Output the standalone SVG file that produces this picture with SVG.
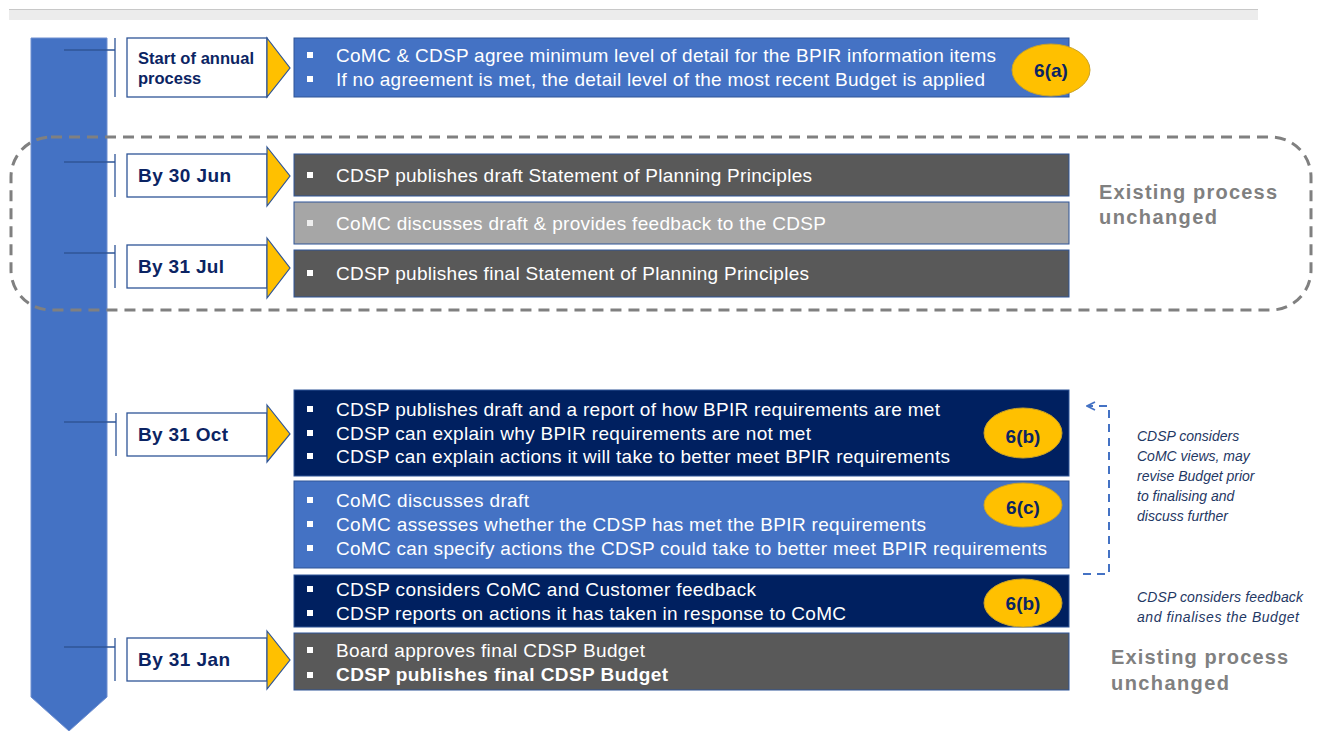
<svg xmlns="http://www.w3.org/2000/svg" width="1322" height="731" viewBox="0 0 1322 731">
<defs>
<style>
.bg{fill:#ffffff}
.tl{fill:#4472C4;stroke:#6f8fd0;stroke-width:1}
.tick{fill:none;stroke:#2F5597;stroke-width:1.3}
.date{fill:#ffffff;stroke:#2F5597;stroke-width:1.3}
.tri{fill:#FFC000;stroke:#2F5597;stroke-width:1.2}
.dl{font-family:"Liberation Sans",Arial,sans-serif;font-weight:bold;fill:#0B2463;font-size:19px}
.dls{font-family:"Liberation Sans",Arial,sans-serif;font-weight:bold;fill:#0B2463;font-size:16.5px}
.box{stroke:#2F5597;stroke-width:1}
.blue{fill:#4472C4}
.navy{fill:#002060}
.dgray{fill:#595959}
.lgray{fill:#A6A6A6}
.t{font-family:"Liberation Sans",Arial,sans-serif;font-size:19px;fill:#ffffff}
.tb{font-weight:bold}
.bul{fill:#ffffff}
.ell{fill:#FFC000;stroke:#C9A227;stroke-width:1}
.et{font-family:"Liberation Sans",Arial,sans-serif;font-weight:bold;font-size:19px;fill:#0B2463;text-anchor:middle}
.ex{font-family:"Liberation Sans",Arial,sans-serif;font-weight:bold;font-size:20px;fill:#808080}
.it{font-family:"Liberation Sans",Arial,sans-serif;font-style:italic;font-size:14px;fill:#1F3864}
.dash{fill:none;stroke:#808080;stroke-width:3;stroke-dasharray:11 7}
.conn{fill:none;stroke:#4472C4;stroke-width:2;stroke-dasharray:8 6}
</style>
<marker id="ah" viewBox="0 0 10 10" refX="9" refY="5" markerWidth="10" markerHeight="10" markerUnits="userSpaceOnUse" orient="auto">
<path d="M1,1 L9,5 L1,9" fill="none" stroke="#4472C4" stroke-width="1.8"/>
</marker>
</defs>
<rect class="bg" x="0" y="0" width="1322" height="731"/>
<rect x="9" y="9" width="1249" height="11" fill="#ECECEC"/>
<line x1="9" y1="9.5" x2="1258" y2="9.5" stroke="#C8C8C8" stroke-width="1"/>

<g id="timeline">
<polygon class="tl" points="31,38 107,38 107,697 69,731 31,697"/>
</g>

<g id="existing-frame">
<rect class="dash" x="11" y="137" width="1300" height="173" rx="40" ry="40"/>
</g>

<g id="connectors">
<path class="tick" d="M64,50 H115 M115,38 V97"/>
<path class="tick" d="M64,162 H115 M115,154 V197"/>
<path class="tick" d="M64,253 H115 M115,245 V288"/>
<path class="tick" d="M64,422 H116 M116,413 V456"/>
<path class="tick" d="M64,647 H115 M115,638 V681"/>
<path class="conn" d="M1083,574 H1109 V406 H1087" marker-end="url(#ah)"/>
</g>

<g id="date-start">
<rect class="date" x="127" y="38" width="140" height="59"/>
<polygon class="tri" points="267,38 290,68 267,97"/>
<text class="dls" x="138" y="64" textLength="116">Start of annual</text>
<text class="dls" x="138" y="84">process</text>
</g>
<g id="date-30jun">
<rect class="date" x="127" y="154" width="140" height="43"/>
<polygon class="tri" points="267,147 290,176 267,206"/>
<text class="dl" x="138" y="182" textLength="93">By 30 Jun</text>
</g>
<g id="date-31jul">
<rect class="date" x="127" y="245" width="140" height="43"/>
<polygon class="tri" points="267,238 290,268 267,298"/>
<text class="dl" x="138" y="273" textLength="86">By 31 Jul</text>
</g>
<g id="date-31oct">
<rect class="date" x="127" y="413" width="140" height="43"/>
<polygon class="tri" points="267,405 290,434 267,462"/>
<text class="dl" x="138" y="441" textLength="90">By 31 Oct</text>
</g>
<g id="date-31jan">
<rect class="date" x="127" y="638" width="140" height="43"/>
<polygon class="tri" points="267,631 290,660 267,689"/>
<text class="dl" x="138" y="666" textLength="92">By 31 Jan</text>
</g>

<g id="box-6a">
<rect class="box blue" x="294" y="38" width="775" height="59"/>
<rect class="bul" x="307" y="52" width="6" height="6"/>
<rect class="bul" x="307" y="76" width="6" height="6"/>
<text class="t" x="336" y="62" textLength="660">CoMC &amp; CDSP agree minimum level of detail for the BPIR information items</text>
<text class="t" x="336" y="86" textLength="649">If no agreement is met, the detail level of the most recent Budget is applied</text>
<ellipse class="ell" cx="1051" cy="70" rx="39" ry="26"/>
<text class="et" x="1051" y="77">6(a)</text>
</g>

<g id="box-draft-spp">
<rect class="box dgray" x="294" y="154" width="775" height="42"/>
<rect class="bul" x="307" y="172" width="6" height="6"/>
<text class="t" x="336" y="182" textLength="476">CDSP publishes draft Statement of Planning Principles</text>
</g>
<g id="box-comc-feedback">
<rect class="box lgray" x="294" y="202" width="775" height="42"/>
<rect x="307" y="220" width="6" height="6" fill="#EDEDED"/>
<text class="t" x="336" y="230" textLength="490" fill="#F2F2F2">CoMC discusses draft &amp; provides feedback to the CDSP</text>
</g>
<g id="box-final-spp">
<rect class="box dgray" x="294" y="250" width="775" height="47"/>
<rect class="bul" x="307" y="270" width="6" height="6"/>
<text class="t" x="336" y="280" textLength="473">CDSP publishes final Statement of Planning Principles</text>
</g>
<g id="label-existing-1">
<text class="ex" x="1099" y="199" textLength="178">Existing process</text>
<text class="ex" x="1099" y="224" textLength="118">unchanged</text>
</g>

<g id="box-6b-draft">
<rect class="box navy" x="294" y="390" width="775" height="86"/>
<rect class="bul" x="307" y="406" width="6" height="6"/>
<rect class="bul" x="307" y="430" width="6" height="6"/>
<rect class="bul" x="307" y="453" width="6" height="6"/>
<text class="t" x="336" y="416" textLength="604">CDSP publishes draft and a report of how BPIR requirements are met</text>
<text class="t" x="336" y="440" textLength="475">CDSP can explain why BPIR requirements are not met</text>
<text class="t" x="336" y="463" textLength="614">CDSP can explain actions it will take to better meet BPIR requirements</text>
<ellipse class="ell" cx="1023" cy="433" rx="39" ry="25"/>
<text class="et" x="1023" y="443">6(b)</text>
</g>

<g id="box-6c">
<rect class="box blue" x="294" y="481" width="775" height="87"/>
<rect class="bul" x="307" y="497" width="6" height="6"/>
<rect class="bul" x="307" y="521" width="6" height="6"/>
<rect class="bul" x="307" y="545" width="6" height="6"/>
<text class="t" x="336" y="507" textLength="193">CoMC discusses draft</text>
<text class="t" x="336" y="531" textLength="590">CoMC assesses whether the CDSP has met the BPIR requirements</text>
<text class="t" x="336" y="555" textLength="711">CoMC can specify actions the CDSP could take to better meet BPIR requirements</text>
<ellipse class="ell" cx="1023" cy="505" rx="39" ry="22"/>
<text class="et" x="1023" y="514">6(c)</text>
</g>

<g id="box-6b-final">
<rect class="box navy" x="294" y="575" width="775" height="52"/>
<rect class="bul" x="307" y="586" width="6" height="6"/>
<rect class="bul" x="307" y="610" width="6" height="6"/>
<text class="t" x="336" y="596" textLength="420">CDSP considers CoMC and Customer feedback</text>
<text class="t" x="336" y="620" textLength="510">CDSP reports on actions it has taken in response to CoMC</text>
<ellipse class="ell" cx="1023" cy="603" rx="39" ry="24"/>
<text class="et" x="1023" y="610">6(b)</text>
</g>

<g id="box-budget">
<rect class="box dgray" x="294" y="633" width="775" height="57"/>
<rect class="bul" x="307" y="647" width="6" height="6"/>
<rect class="bul" x="307" y="672" width="6" height="6"/>
<text class="t" x="336" y="657" textLength="309">Board approves final CDSP Budget</text>
<text class="t tb" x="336" y="681" textLength="332">CDSP publishes final CDSP Budget</text>
</g>
<g id="label-existing-2">
<text class="ex" x="1111" y="664" textLength="177">Existing process</text>
<text class="ex" x="1111" y="690" textLength="118">unchanged</text>
</g>

<g id="note-revise">
<text class="it" x="1137" y="441">CDSP considers</text>
<text class="it" x="1137" y="461">CoMC views, may</text>
<text class="it" x="1137" y="481">revise Budget prior</text>
<text class="it" x="1137" y="501">to finalising and</text>
<text class="it" x="1137" y="521">discuss further</text>
</g>
<g id="note-finalise">
<text class="it" x="1137" y="602" textLength="166">CDSP considers feedback</text>
<text class="it" x="1137" y="622" textLength="162">and finalises the Budget</text>
</g>
</svg>
